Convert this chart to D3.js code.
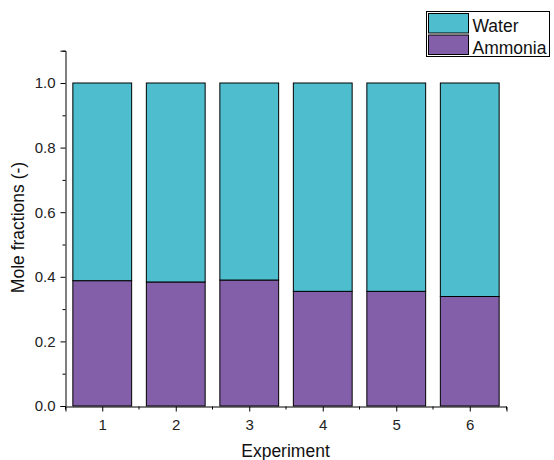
<!DOCTYPE html>
<html><head><meta charset="utf-8">
<script src="https://cdn.jsdelivr.net/npm/d3@7"></script>
<style>body{margin:0;background:#fff;}svg{display:block;font-family:"Liberation Sans",Arial,sans-serif;}</style>
</head><body>
<script>
const experiments = [1, 2, 3, 4, 5, 6];
const ammonia = [0.388, 0.384, 0.390, 0.355, 0.355, 0.339];
const water = ammonia.map(a => 1 - a);
const seriesNames = ["Ammonia", "Water"];
const colors = {Ammonia: "#835FA9", Water: "#4EBECE"};
const yTicks = [0, 0.2, 0.4, 0.6, 0.8, 1.0];
const yMinor = [0.1, 0.3, 0.5, 0.7, 0.9, 1.1];
const xMinor = [0.5, 1.5, 2.5, 3.5, 4.5, 5.5, 6.5];

const W = 554, H = 460;
const FONT = "Liberation Sans, Arial, sans-serif";
const svg = d3.select("body").append("svg").attr("width", W).attr("height", H);
const x = d3.scaleLinear().domain([0.5, 6.5]).range([65.5, 506.5]);
const y = d3.scaleLinear().domain([0, 1.1]).range([406, 50.7]);
const bw = (x(2) - x(1)) * 0.8;

const rows = experiments.map((e, i) => ({exp: e, Ammonia: ammonia[i], Water: water[i]}));
const stack = d3.stack().keys(seriesNames)(rows);

svg.append("g").selectAll("g").data(stack).join("g")
  .attr("fill", d => colors[d.key])
  .selectAll("rect").data(d => d).join("rect")
  .attr("x", d => x(d.data.exp) - bw / 2)
  .attr("width", bw)
  .attr("y", d => y(d[1]))
  .attr("height", d => y(d[0]) - y(d[1]))
  .attr("stroke", "#000").attr("stroke-width", 1);

// Y axis
const ya = svg.append("g").attr("transform", "translate(65.5,0)")
  .call(d3.axisLeft(y).tickValues(yTicks).tickFormat(d3.format(".1f")).tickSizeOuter(0).tickSize(5).tickPadding(5));
ya.selectAll("text").attr("font-size", 15).attr("fill", "#222").attr("font-family", FONT);
ya.append("g").selectAll("line").data(yMinor).join("line")
  .attr("x1", -3).attr("x2", 0).attr("y1", d => y(d) + 0.5).attr("y2", d => y(d) + 0.5).attr("stroke", "#000");

// X axis
const xa = svg.append("g").attr("transform", "translate(0,406.5)")
  .call(d3.axisBottom(x).tickValues(experiments).tickFormat(d3.format("d")).tickSizeOuter(0).tickSize(5));
xa.selectAll("text").attr("font-size", 15).attr("fill", "#222").attr("dy", "1em").attr("font-family", FONT);
xa.append("g").selectAll("line").data(xMinor).join("line")
  .attr("y1", 0).attr("y2", 3).attr("x1", d => x(d)).attr("x2", d => x(d)).attr("stroke", "#000");

// Axis titles
svg.append("text").attr("x", 285.5).attr("y", 457).attr("text-anchor", "middle")
  .attr("font-size", 17.5).attr("fill", "#111").text("Experiment");
svg.append("text").attr("transform", "translate(23.5,227.5) rotate(-90)").attr("text-anchor", "middle")
  .attr("font-size", 17.5).attr("fill", "#111").text("Mole fractions (-)");

// Legend
const leg = svg.append("g");
leg.append("rect").attr("x", 426.5).attr("y", 11.5).attr("width", 123).attr("height", 45)
  .attr("fill", "#fff").attr("stroke", "#000");
const legItems = ["Water", "Ammonia"];
legItems.forEach((k, i) => {
  leg.append("rect").attr("x", 428.5).attr("y", 13.5 + i * 21.5).attr("width", 40).attr("height", 19.5)
    .attr("fill", colors[k]).attr("stroke", "#000");
  leg.append("text").attr("x", 472.5).attr("y", 31.5 + i * 22.5).attr("font-size", 17.5).attr("fill", "#111").text(k);
});
</script>
</body></html>
